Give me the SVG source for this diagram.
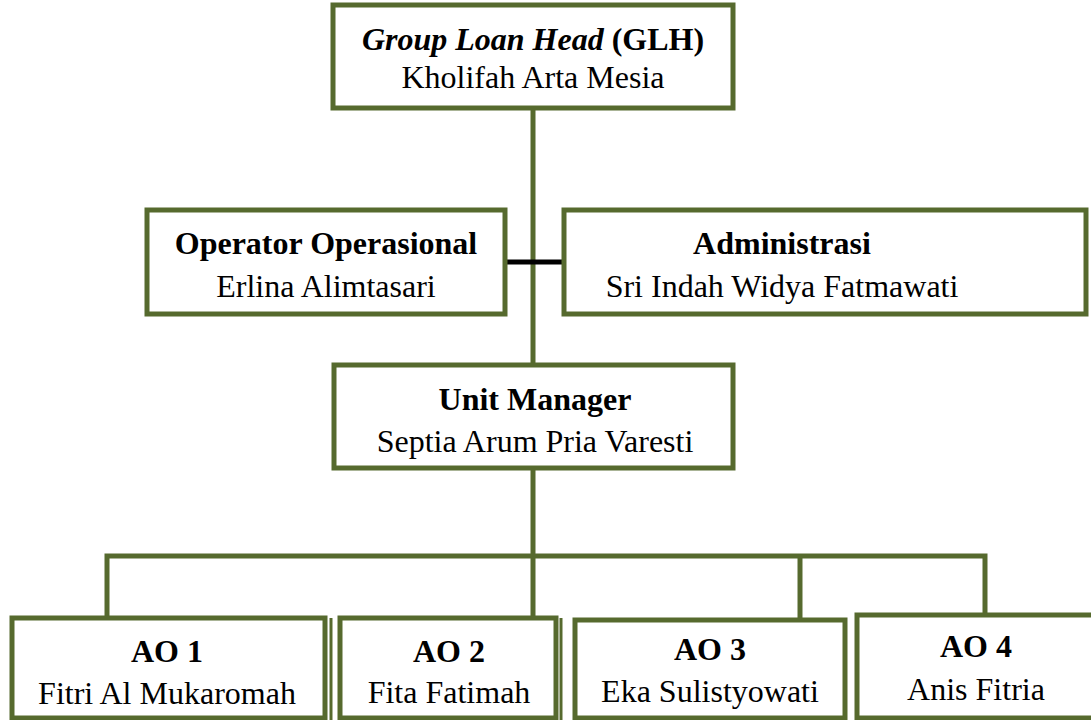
<svg xmlns="http://www.w3.org/2000/svg" width="1091" height="720" viewBox="0 0 1091 720">
<style>
.box{fill:#fff;stroke:#566a2e;stroke-width:5}
.ln{fill:none;stroke:#566a2e;stroke-width:5}
.thin{fill:none;stroke:#566a2e;stroke-width:3}
text{font-family:"Liberation Serif","Times New Roman",serif;font-size:32px;fill:#000;text-anchor:middle}
.b{font-weight:bold}
.i{font-style:italic}
</style>
<rect width="1091" height="720" fill="#fff"/>
<g id="connectors">
<line class="ln" x1="533" y1="107" x2="533" y2="364"/>
<line x1="505" y1="262" x2="562" y2="262" stroke="#000" stroke-width="5"/>
<line class="ln" x1="533" y1="468" x2="533" y2="618"/>
<polyline class="ln" points="107,616 107,556 985,556 985,615"/>
<line class="ln" x1="800" y1="556" x2="800" y2="620"/>
</g>
<g id="glh">
<rect class="box" x="333" y="5" width="400" height="103"/>
<text x="533" y="50"><tspan class="b i">Group Loan Head</tspan><tspan class="b"> (GLH)</tspan></text>
<text x="533" y="88">Kholifah Arta Mesia</text>
</g>
<g id="operator">
<rect class="box" x="147" y="210" width="358" height="104"/>
<text class="b" x="326" y="254">Operator Operasional</text>
<text x="326" y="297">Erlina Alimtasari</text>
</g>
<g id="administrasi">
<rect class="box" x="564" y="210" width="522" height="104"/>
<text class="b" x="782" y="254">Administrasi</text>
<text x="782" y="297">Sri Indah Widya Fatmawati</text>
</g>
<g id="unit-manager">
<rect class="box" x="334" y="365" width="399" height="103"/>
<text class="b" x="535" y="410">Unit Manager</text>
<text x="535" y="452">Septia Arum Pria Varesti</text>
</g>
<g id="ao1">
<rect class="box" x="12" y="618" width="313" height="100"/>
<line class="thin" x1="331" y1="618" x2="331" y2="720"/>
<text class="b" x="167" y="662">AO 1</text>
<text x="167" y="704">Fitri Al Mukaromah</text>
</g>
<g id="ao2">
<rect class="box" x="340" y="618" width="216" height="100"/>
<line class="thin" x1="561" y1="618" x2="561" y2="720"/>
<text class="b" x="449" y="662">AO 2</text>
<text x="449" y="703">Fita Fatimah</text>
</g>
<g id="ao3">
<rect class="box" x="575" y="620" width="270" height="98"/>
<text class="b" x="710" y="660">AO 3</text>
<text x="710" y="702">Eka Sulistyowati</text>
</g>
<g id="ao4">
<rect class="box" x="857" y="615" width="240" height="103"/>
<text class="b" x="976" y="657">AO 4</text>
<text x="976" y="700">Anis Fitria</text>
</g>
</svg>
